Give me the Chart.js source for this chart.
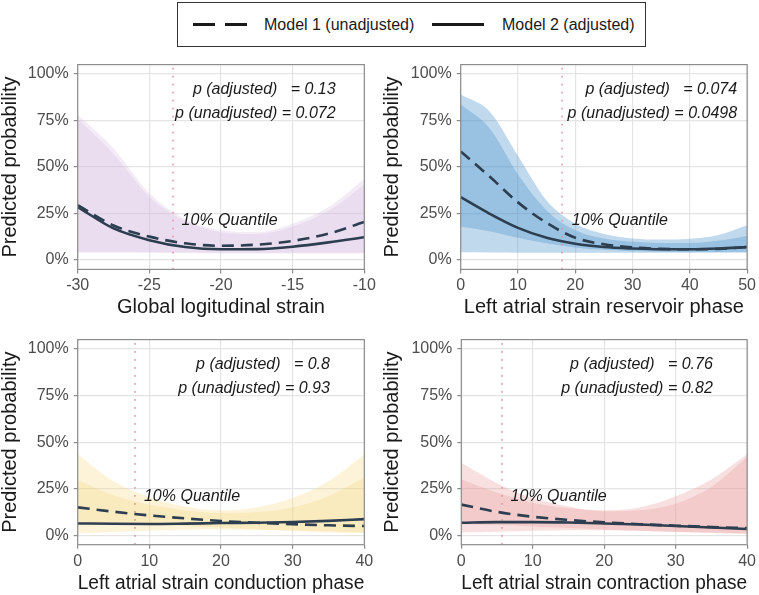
<!DOCTYPE html>
<html>
<head>
<meta charset="utf-8">
<script src="https://cdn.jsdelivr.net/npm/chart.js@4"></script>
<style>
  html, body { margin: 0; padding: 0; background: #fff; }
  body { width: 759px; height: 595px; position: relative; overflow: hidden; font-family: "Liberation Sans", Arial, sans-serif; }
  canvas { position: absolute; }
  #legend { position: absolute; left: 177px; top: 2px; width: 469px; height: 45px; border: 1.5px solid #333; box-sizing: border-box; }
  #legend .sym { position: absolute; top: 20px; height: 3px; background: #1a1a1a; }
  #legend .txt { position: absolute; top: 12px; font-size: 16px; line-height: 20px; color: #1a1a1a; white-space: nowrap; }
</style>
</head>
<body>
<div id="legend">
  <div class="sym" style="left:15px;width:22px"></div>
  <div class="sym" style="left:47px;width:22px"></div>
  <div class="txt" style="left:86px">Model 1 (unadjusted)</div>
  <div class="sym" style="left:254px;width:52px"></div>
  <div class="txt" style="left:324px">Model 2 (adjusted)</div>
</div>
<canvas id="p1" width="380" height="275" style="left:0;top:50px"></canvas>
<canvas id="p2" width="379" height="275" style="left:380px;top:50px"></canvas>
<canvas id="p3" width="380" height="270" style="left:0;top:325px"></canvas>
<canvas id="p4" width="379" height="270" style="left:380px;top:325px"></canvas>
<script>
// ── data ──────────────────────────────────────────────────────────────────
// shared y axis (predicted probability)
const yTicks = [0, 0.25, 0.5, 0.75, 1];

// panel 1 – global longitudinal strain
const glsX       = [-30, -27.5, -25, -22.5, -20, -17.5, -15, -12.5, -10];
const glsTicks   = [-30, -25, -20, -15, -10];
const glsAdj     = [0.285, 0.170, 0.107, 0.070, 0.058, 0.059, 0.072, 0.095, 0.123];
const glsUnadj   = [0.295, 0.186, 0.126, 0.090, 0.077, 0.083, 0.103, 0.142, 0.205];
const glsAdjLo   = [0.045, 0.045, 0.044, 0.042, 0.040, 0.040, 0.040, 0.040, 0.040];
const glsAdjHi   = [0.760, 0.570, 0.340, 0.210, 0.150, 0.140, 0.180, 0.265, 0.405];
const glsUnadjLo = [0.040, 0.040, 0.040, 0.038, 0.036, 0.035, 0.035, 0.035, 0.035];
const glsUnadjHi = [0.780, 0.600, 0.360, 0.220, 0.160, 0.150, 0.195, 0.285, 0.436];
const glsQ10     = -23.35;
const glsP       = ['p (adjusted)   = 0.13', 'p (unadjusted) = 0.072'];

// panel 2 – LA strain reservoir phase
const resX       = [0, 5, 10, 15, 20, 25, 30, 35, 40, 45, 50];
const resTicks   = [0, 10, 20, 30, 40, 50];
const resAdj     = [0.338, 0.250, 0.173, 0.120, 0.088, 0.070, 0.062, 0.058, 0.058, 0.062, 0.070];
const resUnadj   = [0.584, 0.450, 0.310, 0.200, 0.120, 0.085, 0.068, 0.060, 0.058, 0.060, 0.070];
const resAdjLo   = [0.042, 0.041, 0.040, 0.040, 0.040, 0.039, 0.039, 0.039, 0.039, 0.039, 0.039];
const resAdjHi   = [0.836, 0.710, 0.460, 0.267, 0.160, 0.116, 0.098, 0.092, 0.092, 0.105, 0.130];
const resUnadjLo = [0.180, 0.155, 0.120, 0.090, 0.068, 0.055, 0.048, 0.045, 0.044, 0.044, 0.045];
const resUnadjHi = [0.890, 0.800, 0.560, 0.320, 0.196, 0.140, 0.116, 0.110, 0.114, 0.135, 0.187];
const resQ10     = 17.7;
const resP       = ['p (adjusted)   = 0.074', 'p (unadjusted) = 0.0498'];

// panel 3 – LA strain conduction phase
const conX       = [0, 5, 10, 15, 20, 25, 30, 35, 40];
const conTicks   = [0, 10, 20, 30, 40];
const conAdj     = [0.064, 0.062, 0.061, 0.063, 0.066, 0.068, 0.072, 0.078, 0.087];
const conUnadj   = [0.150, 0.127, 0.107, 0.091, 0.077, 0.068, 0.060, 0.054, 0.050];
const conAdjLo   = [0.010, 0.018, 0.025, 0.030, 0.032, 0.030, 0.027, 0.022, 0.016];
const conAdjHi   = [0.435, 0.290, 0.205, 0.155, 0.135, 0.150, 0.200, 0.290, 0.435];
const conUnadjLo = [0.070, 0.065, 0.058, 0.050, 0.042, 0.032, 0.023, 0.016, 0.011];
const conUnadjHi = [0.295, 0.215, 0.165, 0.135, 0.120, 0.125, 0.150, 0.210, 0.310];
const conQ10     = 8.0;
const conP       = ['p (adjusted)   = 0.8', 'p (unadjusted) = 0.93'];

// panel 4 – LA strain contraction phase
const ctrX       = [0, 5, 10, 15, 20, 25, 30, 35, 40];
const ctrTicks   = [0, 10, 20, 30, 40];
const ctrAdj     = [0.068, 0.071, 0.071, 0.069, 0.064, 0.058, 0.050, 0.042, 0.034];
const ctrUnadj   = [0.165, 0.126, 0.100, 0.083, 0.070, 0.060, 0.052, 0.045, 0.039];
const ctrAdjLo   = [0.015, 0.020, 0.025, 0.028, 0.028, 0.025, 0.020, 0.015, 0.010];
const ctrAdjHi   = [0.300, 0.230, 0.175, 0.145, 0.135, 0.150, 0.210, 0.300, 0.435];
const ctrUnadjLo = [0.060, 0.055, 0.048, 0.040, 0.032, 0.025, 0.018, 0.013, 0.009];
const ctrUnadjHi = [0.390, 0.280, 0.200, 0.155, 0.130, 0.135, 0.170, 0.260, 0.420];
const ctrQ10     = 5.7;
const ctrP       = ['p (adjusted)   = 0.76', 'p (unadjusted) = 0.82'];

// ── styling ───────────────────────────────────────────────────────────────
const FONT = '"Liberation Sans", Arial, sans-serif';
const INK  = '#2c3e50';

const panels = [
  { id: 'p1', title: 'Global logitudinal strain', xs: glsX, ticks: glsTicks,
    adj: glsAdj, unadj: glsUnadj, adjLo: glsAdjLo, adjHi: glsAdjHi, unLo: glsUnadjLo, unHi: glsUnadjHi,
    q: glsQ10, p: glsP, pX: -12, qX: -22.75, fill: 'rgba(214,189,225,0.3)',
    pad: { left: 0, top: 13.3, right: 15.7, bottom: 0 }, yw: 77.7, xh: 55.6, yTitlePad: 0, xTitlePad: 6 },
  { id: 'p2', title: 'Left atrial strain reservoir phase', xs: resX, ticks: resTicks,
    adj: resAdj, unadj: resUnadj, adjLo: resAdjLo, adjHi: resAdjHi, unLo: resUnadjLo, unHi: resUnadjHi,
    q: resQ10, p: resP, pX: 48.25, qX: 19.4, fill: 'rgba(80,150,205,0.36)',
    pad: { left: 0, top: 13.3, right: 11, bottom: 0 }, yw: 80.7, xh: 55.6, yTitlePad: 2.5, xTitlePad: 6 },
  { id: 'p3', title: 'Left atrial strain conduction phase', xs: conX, ticks: conTicks,
    adj: conAdj, unadj: conUnadj, adjLo: conAdjLo, adjHi: conAdjHi, unLo: conUnadjLo, unHi: conUnadjHi,
    q: conQ10, p: conP, pX: 35.2, qX: 9.25, fill: 'rgba(245,215,130,0.3)',
    pad: { left: 0, top: 13.3, right: 15.7, bottom: 0 }, yw: 77.7, xh: 50.3, yTitlePad: 0, xTitlePad: 0 },
  { id: 'p4', title: 'Left atrial strain contraction phase', xs: ctrX, ticks: ctrTicks,
    adj: ctrAdj, unadj: ctrUnadj, adjLo: ctrAdjLo, adjHi: ctrAdjHi, unLo: ctrUnadjLo, unHi: ctrUnadjHi,
    q: ctrQ10, p: ctrP, pX: 35.2, qX: 6.9, fill: 'rgba(233,160,160,0.32)',
    pad: { left: 0, top: 13.3, right: 10.3, bottom: 0 }, yw: 81.3, xh: 50.3, yTitlePad: 2.5, xTitlePad: 0 },
];

// panel frame + p-values + quantile label, placed through the scales
const panelDecor = {
  id: 'panelDecor',
  afterDatasetsDraw(chart, args, o) {
    const { ctx, chartArea: a, scales: { x, y } } = chart;
    ctx.save();
    ctx.strokeStyle = '#8c8c8c';
    ctx.lineWidth = 1.2;
    ctx.strokeRect(a.left, a.top, a.width, a.height);
    ctx.fillStyle = '#1a1a1a';
    ctx.font = 'italic 16px ' + FONT;
    ctx.textBaseline = 'middle';
    ctx.textAlign = 'right';
    ctx.fillText(o.p[0], x.getPixelForValue(o.pX), y.getPixelForValue(0.918));
    ctx.fillText(o.p[1], x.getPixelForValue(o.pX), y.getPixelForValue(0.786));
    ctx.textAlign = 'left';
    ctx.fillText('10% Quantile', x.getPixelForValue(o.qX), y.getPixelForValue(0.21));
    ctx.restore();
  }
};

const pts = (xs, ys) => xs.map((x, i) => ({ x, y: ys[i] }));
const band = (xs, ys, bg, fill) => ({
  data: pts(xs, ys), borderWidth: 0, pointRadius: 0, backgroundColor: bg,
  fill, cubicInterpolationMode: 'monotone'
});

function drawPanel(pn) {
  const xs = pn.xs;
  new Chart(document.getElementById(pn.id), {
    type: 'line',
    data: {
      datasets: [
        { data: pts(xs, pn.adj), borderColor: INK, borderWidth: 2.6, pointRadius: 0, fill: false, cubicInterpolationMode: 'monotone' },
        { data: pts(xs, pn.unadj), borderColor: INK, borderWidth: 2.6, borderDash: [12, 7], pointRadius: 0, fill: false, cubicInterpolationMode: 'monotone' },
        { data: [{ x: pn.q, y: -0.05 }, { x: pn.q, y: 1.05 }], borderColor: 'rgba(222,140,160,0.85)', borderWidth: 1.6, borderDash: [1.6, 6.4], pointRadius: 0, fill: false },
        band(xs, pn.unLo, pn.fill, false),
        band(xs, pn.unHi, pn.fill, 3),
        band(xs, pn.adjLo, pn.fill, false),
        band(xs, pn.adjHi, pn.fill, 5),
      ]
    },
    options: {
      responsive: false, animation: false, devicePixelRatio: 1,
      layout: { padding: pn.pad },
      plugins: { legend: { display: false }, tooltip: { enabled: false }, panelDecor: pn },
      scales: {
        x: {
          type: 'linear', min: xs[0], max: xs[xs.length - 1],
          afterBuildTicks: s => { s.ticks = pn.ticks.map(v => ({ value: v })); },
          afterFit: s => { s.height = pn.xh; },
          grid: { color: '#e4e4e4', lineWidth: 1.2, tickLength: 4, tickColor: '#8c8c8c' },
          border: { display: false },
          ticks: { color: '#4d4d4d', font: { size: 16, family: FONT }, padding: 3, maxRotation: 0, autoSkip: false, callback: v => String(v) },
          title: { display: true, text: pn.title, color: '#1a1a1a', font: { size: 20, family: FONT, lineHeight: 1.2 }, padding: { top: 0, bottom: pn.xTitlePad } }
        },
        y: {
          type: 'linear', min: -0.05, max: 1.05,
          afterBuildTicks: s => { s.ticks = yTicks.map(v => ({ value: v })); },
          afterFit: s => { s.width = pn.yw; },
          grid: { color: '#e4e4e4', lineWidth: 1.2, tickLength: 4, tickColor: '#8c8c8c' },
          border: { display: false },
          ticks: { color: '#4d4d4d', font: { size: 16, family: FONT }, padding: 5, callback: v => Math.round(v * 100) + '%' },
          title: { display: true, text: 'Predicted probability', color: '#1a1a1a', font: { size: 20, family: FONT, lineHeight: 1 }, padding: { top: pn.yTitlePad, bottom: 0 } }
        }
      }
    },
    plugins: [panelDecor]
  });
}

panels.forEach(drawPanel);
</script>
</body>
</html>
